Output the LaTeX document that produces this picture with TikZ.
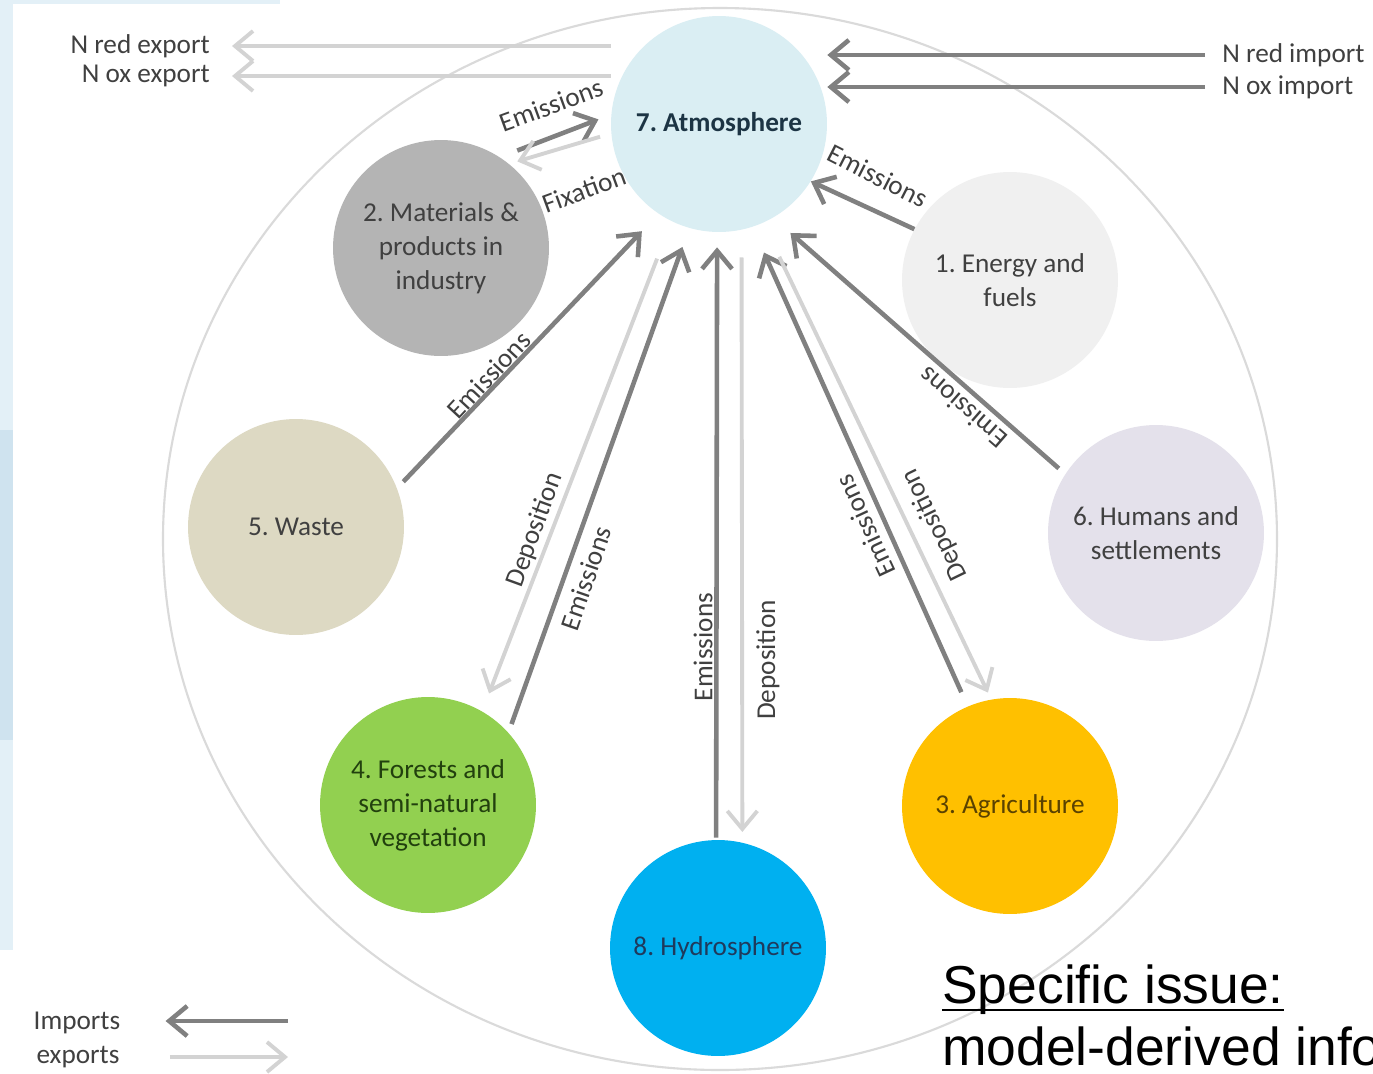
\documentclass[tikz,border=0pt]{standalone}
\usepackage{fontspec}
\setmainfont{Carlito}
\newfontfamily\slidefont{Liberation Sans}
\usetikzlibrary{arrows.meta}
\definecolor{txtgray}{HTML}{404040}
\definecolor{darkflow}{HTML}{808080}
\definecolor{lightflow}{HTML}{D3D3D3}
\definecolor{ringgray}{HTML}{DADADA}
\definecolor{slideblue}{HTML}{E3F0F7}
\definecolor{slideblueb}{HTML}{CFE3EF}
\definecolor{atmfill}{HTML}{DAEEF3}
\definecolor{atmtxt}{HTML}{1C3444}
\definecolor{matfill}{HTML}{B4B4B4}
\definecolor{enefill}{HTML}{F0F0F0}
\definecolor{wasfill}{HTML}{DDD9C3}
\definecolor{humfill}{HTML}{E4E1EB}
\definecolor{forfill}{HTML}{92D050}
\definecolor{fortxt}{HTML}{22400E}
\definecolor{agrfill}{HTML}{FFC000}
\definecolor{agrtxt}{HTML}{5A4200}
\definecolor{hydfill}{HTML}{00B0F0}
\definecolor{hydtxt}{HTML}{1F3A5C}
\begin{document}
\frenchspacing
\fontsize{15.5}{19.3}\selectfont
\begin{tikzpicture}[x=0.02cm,y=-0.02cm,
  sphere/.style={circle,minimum size=4.32cm,inner sep=0pt,align=center},
  flowtxt/.style={text=txtgray,inner sep=0pt},
  emis/.style={draw=darkflow,line width=2.6pt,-{Straight Barb[length=0.36cm,width=0.6cm]}},
  depo/.style={draw=lightflow,line width=2.2pt,-{Straight Barb[length=0.36cm,width=0.6cm]}}]
\clip (0,0) rectangle (1373,1073);
\fill[white] (0,0) rectangle (1373,1073);
\fill[slideblue] (0,0) rectangle (13,950);
\fill[slideblue] (0,0) rectangle (280,4);
\fill[slideblueb] (0,430) rectangle (13,740);
\draw[ringgray,line width=1.2pt] (720,539) ellipse [x radius=557,y radius=531];
\node[sphere,fill=atmfill,text=atmtxt,font=\bfseries] (atm) at (719,124) {7. Atmosphere};
\node[sphere,fill=matfill,text=txtgray] (mat) at (441,248) {2. Materials \&\\products in\\industry};
\node[sphere,fill=enefill,text=txtgray] (ene) at (1010,280) {1. Energy and\\fuels};
\node[sphere,fill=wasfill,text=txtgray] (was) at (296,527) {5. Waste};
\node[sphere,fill=humfill,text=txtgray] (hum) at (1156,533) {6. Humans and\\settlements};
\node[sphere,fill=forfill,text=fortxt] (fore) at (428,805) {4. Forests and\\semi-natural\\vegetation};
\node[sphere,fill=agrfill,text=agrtxt] (agr) at (1010,806) {3. Agriculture};
\node[sphere,fill=hydfill,text=hydtxt] (hyd) at (718,948) {8. Hydrosphere};
\node[flowtxt,anchor=east] (rexp) at (210,46) {N red export};
\node[flowtxt,anchor=east] (oexp) at (210,76) {N ox export};
\node[flowtxt,anchor=west] (rimp) at (1222,55) {N red import};
\node[flowtxt,anchor=west] (oimp) at (1222,87) {N ox import};
\draw[depo,shorten >=0.44cm] (atm.west |- rexp) -- (rexp.east);
\draw[depo,shorten >=0.44cm] (atm.west |- oexp) -- (oexp.east);
\draw[emis,shorten <=0.34cm] (rimp.west) -- (atm.east |- rimp);
\draw[emis,shorten <=0.34cm] (oimp.west) -- (atm.east |- oimp);
\draw[emis,shorten <=0.37cm,shorten >=0.27cm] (mat.57) -- (atm.175);
\draw[depo,shorten <=0.23cm,shorten >=0.17cm] (atm.185) -- (mat.51);
\draw[emis] (ene.152) -- (atm.328);
\draw[emis,shorten <=0.18cm,shorten >=0.48cm] (was.21) -- (atm.236);
\draw[depo,shorten <=0.8cm,shorten >=0.38cm] (atm.244) -- (fore.60);
\draw[emis,shorten <=0.18cm,shorten >=0.4cm] (fore.42) -- (atm.254);
\draw[emis,shorten <=0.04cm,shorten >=0.3cm] (hyd.91) -- (atm.269);
\draw[depo,shorten <=0.55cm,shorten >=0.21cm] (atm.282) -- (hyd.77);
\draw[emis,shorten <=0.31cm,shorten >=0.56cm] (agr.113) -- (atm.288);
\draw[depo,shorten <=0.75cm,shorten >=0.15cm] (atm.294) -- (agr.100);
\draw[emis,shorten <=0.17cm,shorten >=0.46cm] (hum.147) -- (atm.300);
\node[flowtxt,rotate=20] (emmat) at (551,105) {Emissions};
\node[flowtxt,rotate=20] (fixmat) at (584,190) {Fixation};
\node[flowtxt,rotate=-27] (emene) at (878,176) {Emissions};
\node[flowtxt,rotate=47] (emwas) at (489,375) {Emissions};
\node[flowtxt,rotate=70] (depfor) at (535,530) {Deposition};
\node[flowtxt,rotate=71] (emfor) at (586,578) {Emissions};
\node[flowtxt,rotate=90] (emhyd) at (703,647) {Emissions};
\node[flowtxt,rotate=90] (dephyd) at (768,660) {Deposition};
\node[flowtxt,rotate=115] (emagr) at (865,526) {Emissions};
\node[flowtxt,rotate=116] (depagr) at (935,525) {Deposition};
\node[flowtxt,rotate=139] (emhum) at (963,408) {Emissions};
\node[flowtxt] (imps) at (77,1023) {Imports};
\node[flowtxt] (exps) at (78,1057) {exports};
\coordinate (impstart) at (288,1021);
\coordinate (expend) at (288,1057);
\draw[emis,shorten >=0.9cm] (impstart) -- (impstart -| imps.east);
\draw[depo,shorten <=1.0cm] (exps.east |- expend) -- (expend);
\node[inner sep=0pt,anchor=base west,font=\slidefont\fontsize{30.4}{36}\selectfont] (spec) at (942,1003) {Specific issue:};
\draw[line width=1.6pt] ([yshift=-0.14cm]spec.base west) -- ([yshift=-0.14cm]spec.base east);
\node[inner sep=0pt,anchor=base west,font=\slidefont\fontsize{30.4}{36}\selectfont] (info) at (942,1065) {model-derived info};
\end{tikzpicture}
\end{document}
